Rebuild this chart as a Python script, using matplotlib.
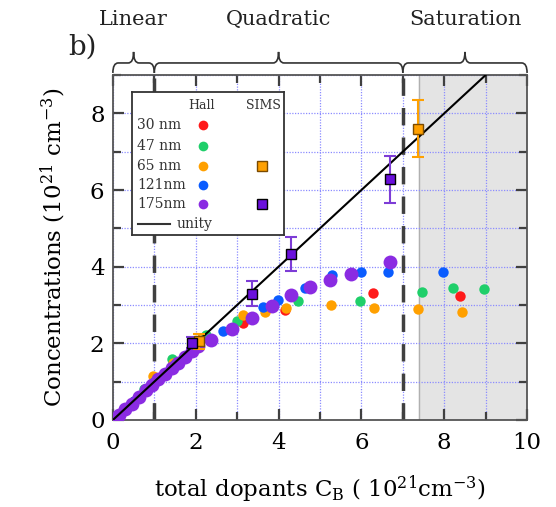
import numpy as np
import matplotlib
matplotlib.use('Agg')
import matplotlib.pyplot as plt
from matplotlib.path import Path
from matplotlib.patches import PathPatch
from matplotlib.transforms import blended_transform_factory

plt.rcParams['font.family'] = ['DejaVu Serif']
plt.rcParams['mathtext.fontset'] = 'dejavuserif'

# Hall data (total dopants, concentration)
x_30 = [0.5, 1.0, 1.5, 2.0, 3.15, 4.15, 6.27, 8.37]
y_30 = [0.5, 1.0, 1.45, 1.95, 2.52, 2.87, 3.31, 3.24]
x_47 = [0.75, 1.42, 2.25, 2.99, 4.48, 5.97, 7.47, 8.2, 8.95]
y_47 = [0.8, 1.6, 2.22, 2.58, 3.1, 3.1, 3.34, 3.44, 3.41]
x_65 = [0.97, 1.45, 2.05, 2.1, 3.15, 3.67, 4.17, 5.26, 6.3, 7.36, 8.42]
y_65 = [1.15, 1.5, 2.0, 2.1, 2.74, 2.83, 2.91, 3.01, 2.93, 2.9, 2.83]
x_121 = [0.5, 1.0, 1.5, 2.0, 2.66, 3.63, 3.99, 4.64, 5.3, 5.98, 6.65, 7.98]
y_121 = [0.5, 1.0, 1.45, 1.95, 2.33, 2.94, 3.13, 3.44, 3.78, 3.87, 3.85, 3.87]
x_175 = [0.02, 0.15, 0.3, 0.45, 0.62, 0.8, 0.95, 1.1, 1.25, 1.42, 1.58, 1.75,
         1.92, 2.05, 2.38, 2.87, 3.35, 3.83, 4.29, 4.76, 5.24, 5.74, 6.69]
y_175 = [0.02, 0.14, 0.29, 0.43, 0.6, 0.77, 0.92, 1.06, 1.2, 1.36, 1.5, 1.64,
         1.8, 1.92, 2.09, 2.37, 2.65, 2.98, 3.26, 3.46, 3.64, 3.8, 4.11]

# SIMS data with error bars
sims65_x = [2.08, 7.36]
sims65_y = [2.05, 7.6]
sims65_err = [0.2, 0.75]
sims175_x = [1.92, 3.35, 4.3, 6.69]
sims175_y = [2.02, 3.3, 4.33, 6.28]
sims175_err = [0.15, 0.33, 0.44, 0.62]

unity_x = [0, 9]

regimes = ['Linear', 'Quadratic', 'Saturation']
regime_edges = [0, 1, 7, 10]

c_red = '#ff1a1a'
c_green = '#1fcf6a'
c_orange = '#ffa000'
c_blue = '#0a5cff'
c_purple = '#8a2be2'
c_sims = '#6a10dc'

fig = plt.figure(figsize=(5.56, 5.07), dpi=100)
ax = fig.add_axes([0.203, 0.1716, 0.745, 0.6804])

ax.axvspan(7.4, 10, color='#e4e4e4', zorder=0.2)
ax.axvline(7.4, color='#b0b0b0', lw=1, zorder=0.25)
ax.set_axisbelow(True)
ax.grid(True, which='both', color='#8c8cff', linestyle=(0, (1, 1.2)), lw=0.9)

ax.plot(x_30, y_30, 'o', color=c_red, ms=7.5, mec='none', zorder=3)
ax.plot(x_47, y_47, 'o', color=c_green, ms=7.5, mec='none', zorder=3)
ax.plot(x_65, y_65, 'o', color=c_orange, ms=7.5, mec='none', zorder=3)
ax.plot(x_121, y_121, 'o', color=c_blue, ms=7.5, mec='none', zorder=3)
ax.plot(x_175, y_175, 'o', color=c_purple, ms=10, mec='none', zorder=4)

ax.plot(unity_x, unity_x, color='black', lw=1.5, zorder=5)

ax.errorbar(sims65_x, sims65_y, yerr=sims65_err, fmt='s', color=c_orange,
            mfc=c_orange, mec='#7a4a00', ms=7, capsize=4, elinewidth=1.5,
            capthick=1.5, zorder=6)
ax.errorbar(sims175_x, sims175_y, yerr=sims175_err, fmt='s', color='#7d3cd6',
            mfc=c_sims, mec='black', ms=7, capsize=4, elinewidth=1.5,
            capthick=1.5, zorder=6)

for xv in regime_edges[1:3]:
    ax.axvline(xv, color='#404040', lw=2.5, ls=(0, (5, 3.5)), zorder=2)

ax.set_xlim(0, 10)
ax.set_ylim(0, 9)
ax.set_xticks([0, 2, 4, 6, 8, 10])
ax.set_xticks([1, 3, 5, 7, 9], minor=True)
ax.set_yticks([0, 2, 4, 6, 8])
ax.set_yticks([1, 3, 5, 7, 9], minor=True)
ax.tick_params(which='both', direction='in', top=True, right=True,
               color='#404040', width=1.6, labelsize=16.5)
ax.tick_params(which='major', length=8)
ax.tick_params(which='minor', length=6)
ax.tick_params(axis='x', pad=9)
ax.tick_params(axis='y', pad=6)
for sp in ax.spines.values():
    sp.set_color('#555555')
    sp.set_linewidth(1.3)

ax.set_xlabel('total dopants C$_\\mathrm{B}$ ( 10$^{21}$cm$^{-3}$)', fontsize=16.5, labelpad=14)
ax.set_ylabel('Concentrations (10$^{21}$ cm$^{-3}$)', fontsize=16.5, labelpad=16)

# braces above the axes
trans = blended_transform_factory(ax.transData, ax.transAxes)
y_end, y_h, y_tip = 1.006, 1.035, 1.067
r = 0.13
for i, name in enumerate(regimes):
    a, b = regime_edges[i], regime_edges[i + 1]
    m = (a + b) / 2
    verts = [(a, y_end), (a, y_h), (a + r, y_h),
             (m - r, y_h), (m, y_h), (m, y_tip),
             (m, y_h), (m + r, y_h),
             (b - r, y_h), (b, y_h), (b, y_end)]
    codes = [Path.MOVETO, Path.CURVE3, Path.CURVE3,
             Path.LINETO, Path.CURVE3, Path.CURVE3,
             Path.CURVE3, Path.CURVE3,
             Path.LINETO, Path.CURVE3, Path.CURVE3]
    ax.add_patch(PathPatch(Path(verts, codes), fc='none', ec='#333333',
                           lw=1.2, transform=trans, clip_on=False))
    ax.text(m, 1.16, name, transform=trans, ha='center', va='center',
            fontsize=15, color='#222222')

fig.text(0.148, 0.908, 'b)', fontsize=20, ha='center', va='center', color='#222222')

# legend box
lax = fig.add_axes([0.238, 0.536, 0.272, 0.283])
lax.set_xlim(0, 1)
lax.set_ylim(0, 1)
lax.set_xticks([])
lax.set_yticks([])
for sp in lax.spines.values():
    sp.set_color('#333333')
    sp.set_linewidth(1.3)
lax.set_zorder(10)

rows = ['30 nm', '47 nm', '65 nm', '121nm', '175nm']
row_colors = [c_red, c_green, c_orange, c_blue, c_purple]
row_sims = [None, None, (c_orange, '#7a4a00'), None, (c_sims, 'black')]
row_y = [0.765, 0.625, 0.485, 0.35, 0.215]
lax.text(0.46, 0.905, 'Hall', fontsize=9, ha='center', va='center', color='#333333')
lax.text(0.87, 0.905, 'SIMS', fontsize=9, ha='center', va='center', color='#333333')
for lab, col, sims, yy in zip(rows, row_colors, row_sims, row_y):
    lax.text(0.03, yy, lab, fontsize=10, ha='left', va='center', color='#333333')
    lax.plot([0.47], [yy], 'o', color=col, ms=7, mec='none')
    if sims is not None:
        lax.plot([0.86], [yy], 's', color=sims[0], mec=sims[1], ms=6.5)
lax.plot([0.04, 0.25], [0.08, 0.08], color='#333333', lw=1.5)
lax.text(0.29, 0.08, 'unity', fontsize=10, ha='left', va='center', color='#333333')

fig.savefig('out.png', dpi=100)
